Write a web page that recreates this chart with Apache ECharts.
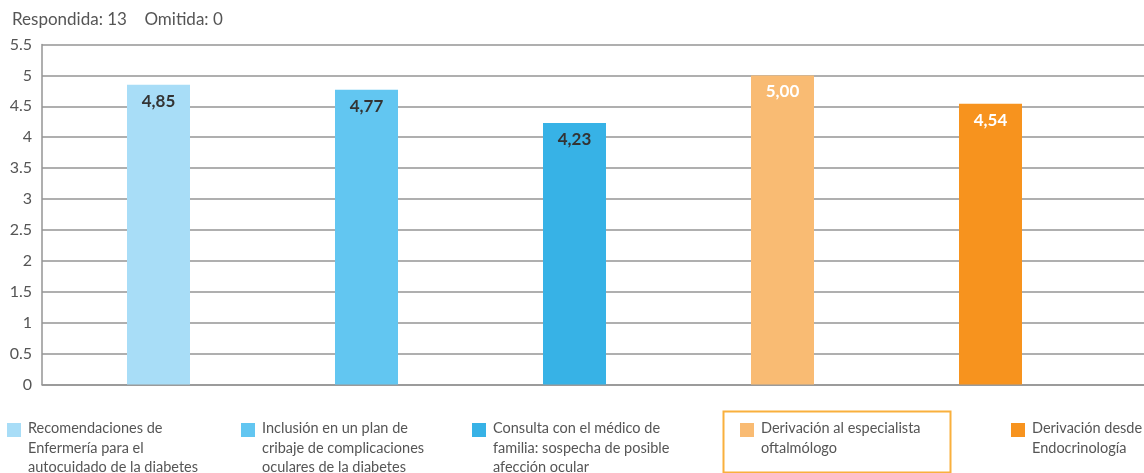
<!DOCTYPE html>
<html>
<head>
<meta charset="utf-8">
<script src="https://cdn.jsdelivr.net/npm/echarts@6/dist/echarts.min.js"></script>
<style>
  html, body { margin: 0; padding: 0; background: #fff; }
  #chart { width: 1144px; height: 473px; }
</style>
</head>
<body>
<div id="chart"></div>
<script>
// Survey answers: mean score per referral / recommendation item
const categories = [
  'Recomendaciones de\nEnfermería para el\nautocuidado de la diabetes',
  'Inclusión en un plan de\ncribaje de complicaciones\noculares de la diabetes',
  'Consulta con el médico de\nfamilia: sospecha de posible\nafección ocular',
  'Derivación al especialista\noftalmólogo',
  'Derivación desde\nEndocrinología'
];
const values = [4.85, 4.77, 4.23, 5.00, 4.54];
const barColors = ['#a8ddf7', '#62c6f1', '#37b2e6', '#f9bb73', '#f7931e'];
const labelColors = ['#333333', '#333333', '#333333', '#ffffff', '#ffffff'];
const headerText = 'Respondida: 13    Omitida: 0';
const yMin = 0, yMax = 5.5, yStep = 0.5;

const FONT = 'Lato';
const TEXT = '#555555';
const LINE = '#959595';

// legend entries, laid out along the bottom
const legendX = [7, 241, 472, 740, 1011];
const legendItems = categories.map((name, i) => ({
  type: 'group',
  left: legendX[i],
  top: 419,
  children: [
    { type: 'rect', shape: { x: 0, y: 4, width: 14, height: 14 }, style: { fill: barColors[i] } },
    { type: 'text', x: 21, y: 0, style: {
        text: name, fill: TEXT, font: '14.5px ' + FONT, lineHeight: 19.3
      } }
  ]
}));

const chart = echarts.init(document.getElementById('chart'), null, { renderer: 'canvas' });
chart.setOption({
  animation: false,
  textStyle: { fontFamily: FONT },
  title: {
    text: headerText,
    left: 12, top: 11, padding: 0,
    textStyle: { color: TEXT, fontSize: 17, fontWeight: 'normal', fontFamily: FONT }
  },
  grid: [
    { left: 42, right: 0, top: 44.5, bottom: 88.5 },   // frame: y scale and rules
    { left: 54.5, width: 1040, top: 44.5, bottom: 88.5 } // bars
  ],
  xAxis: [
    { gridIndex: 0, type: 'category', data: ['x'],
      axisLine: { show: true, lineStyle: { color: LINE, width: 1.5 } },
      axisTick: { show: false }, axisLabel: { show: false } },
    { gridIndex: 1, type: 'category', data: categories, show: false }
  ],
  yAxis: [
    { gridIndex: 0, type: 'value', min: yMin, max: yMax, interval: yStep,
      axisLine: { show: true, lineStyle: { color: LINE, width: 1.5 } },
      axisTick: { show: false },
      axisLabel: { color: TEXT, fontSize: 16, margin: 10, fontFamily: FONT },
      splitLine: { lineStyle: { color: LINE, width: 1.5 } } },
    { gridIndex: 1, type: 'value', min: yMin, max: yMax, interval: yStep, show: false,
      splitLine: { show: false } }
  ],
  series: [{
    type: 'bar',
    xAxisIndex: 1, yAxisIndex: 1,
    barWidth: 63,
    data: values.map((v, i) => ({
      value: v,
      itemStyle: { color: barColors[i] },
      label: { color: labelColors[i] }
    })),
    label: {
      show: true,
      position: 'insideTop',
      distance: 8,
      fontSize: 17,
      fontWeight: 'bold',
      fontFamily: FONT,
      formatter: p => p.value.toFixed(2).replace('.', ',')
    }
  }],
  graphic: [
    ...legendItems,
    { type: 'rect', left: 721, top: 409,
      shape: { width: 227, height: 61 },
      style: { fill: 'none', stroke: '#f9b03d', lineWidth: 2 } }
  ]
});
</script>
</body>
</html>
